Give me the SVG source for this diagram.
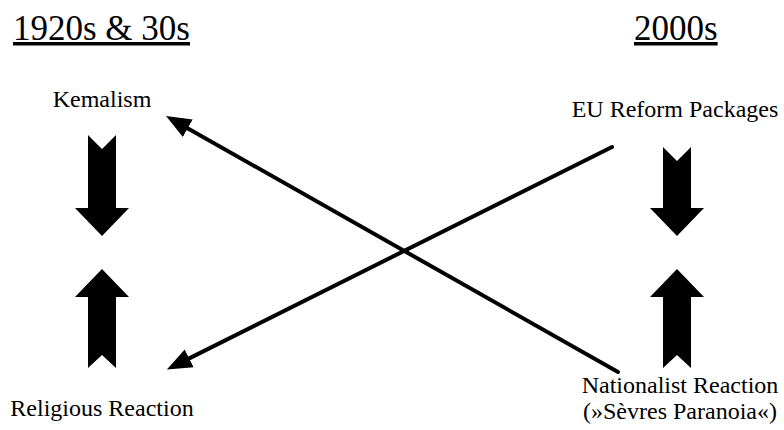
<svg xmlns="http://www.w3.org/2000/svg" width="784" height="430" viewBox="0 0 784 430">
<style>
text{font-family:"Liberation Serif","Times New Roman","DejaVu Serif",serif;fill:#000}
.title{font-size:35px;text-decoration:underline}
.lbl{font-size:24px;text-anchor:middle}
.blk{fill:#000}
.conn{stroke:#000;stroke-width:4;fill:none;stroke-linecap:round}
</style>
<defs>
<marker id="ah" markerUnits="userSpaceOnUse" markerWidth="26" markerHeight="22" viewBox="0 0 26 22" refX="14" refY="11" orient="auto">
<path d="M0,1 L25,11 L0,21 Z" fill="#000"/>
</marker>
</defs>
<rect width="784" height="430" fill="#fff"/>
<g id="title-left"><text class="title" x="13" y="40">1920s &amp; 30s</text></g>
<g id="title-right"><text class="title" x="634" y="40">2000s</text></g>
<g id="kemalism"><text class="lbl" x="102" y="107">Kemalism</text></g>
<g id="eu-reform"><text class="lbl" x="675" y="117">EU Reform Packages</text></g>
<g id="religious-reaction"><text class="lbl" x="102" y="416">Religious Reaction</text></g>
<g id="nationalist-reaction"><text class="lbl" x="680" y="393">Nationalist Reaction</text><text class="lbl" x="680" y="419">(»Sèvres Paranoia«)</text></g>
<g id="block-arrows">
<polygon class="blk" points="88,135 102,149 116,135 116,208 129,208 102,236 75,208 88,208"/>
<polygon class="blk" points="102,269 129,297 116,297 116,368 102,355 88,368 88,297 75,297"/>
<polygon class="blk" points="663,147 677,161 691,147 691,208 704,208 677,236 650,208 663,208"/>
<polygon class="blk" points="677,269 704,297 691,297 691,368 677,355 663,368 663,297 650,297"/>
</g>
<g id="connectors">
<line class="conn" x1="618" y1="372" x2="175.6" y2="121.4" marker-end="url(#ah)"/>
<line class="conn" x1="612" y1="147" x2="176.7" y2="364.6" marker-end="url(#ah)"/>
</g>
</svg>
